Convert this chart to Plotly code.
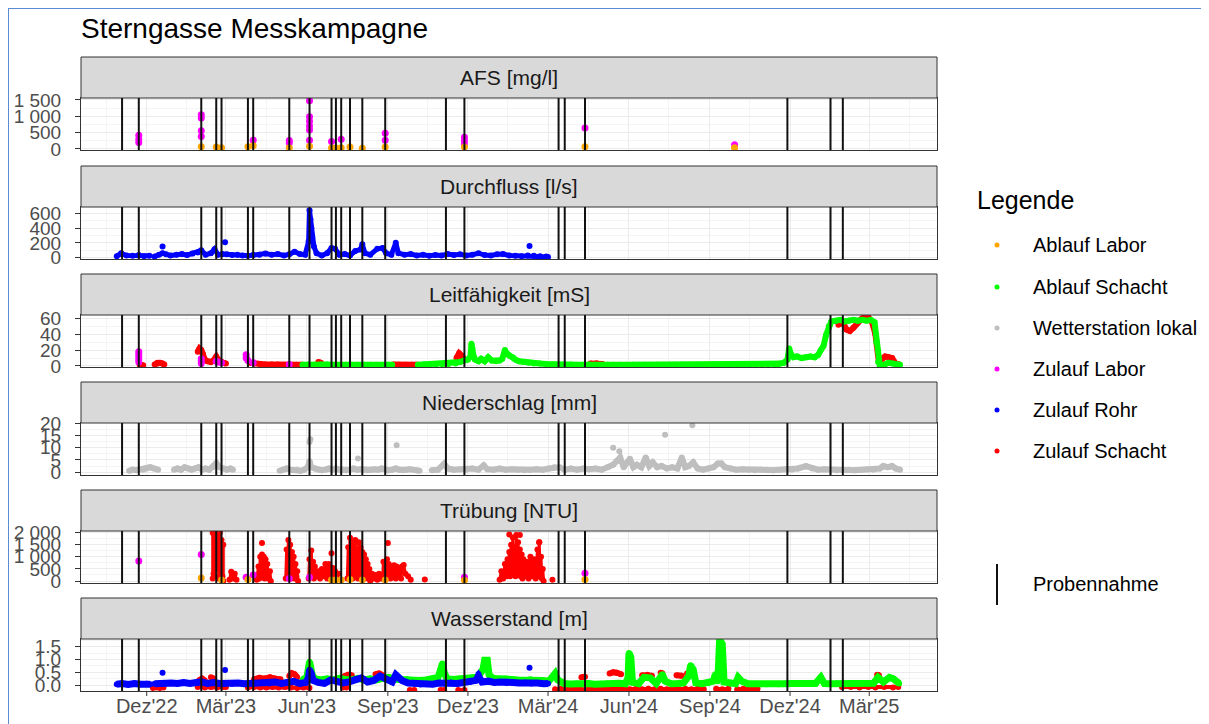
import plotly.graph_objects as go

# ---------------------------------------------------------------- data
probennahme = ["2022-11-03", "2022-11-22", "2023-02-01", "2023-02-18", "2023-02-24", "2023-03-26",
               "2023-04-01", "2023-05-12", "2023-06-04", "2023-06-29", "2023-07-04", "2023-07-10",
               "2023-07-20", "2023-08-03", "2023-08-29", "2023-11-06", "2023-11-27", "2024-03-13",
               "2024-03-20", "2024-04-12", "2024-11-28", "2025-01-16", "2025-01-30"]

x_tick_vals = ["2022-12-01", "2023-03-01", "2023-06-01", "2023-09-01", "2023-12-01", "2024-03-01",
               "2024-06-01", "2024-09-01", "2024-12-01", "2025-03-01"]
x_tick_text = ["Dez'22", "Mär'23", "Jun'23", "Sep'23", "Dez'23", "Mär'24", "Jun'24", "Sep'24",
               "Dez'24", "Mär'25"]
x_minor_vals = ["2022-10-16", "2023-01-15", "2023-04-16", "2023-07-16", "2023-10-16", "2024-01-15",
                "2024-04-16", "2024-07-16", "2024-10-16", "2025-01-15", "2025-04-16"]
x_range = ["2022-09-17 08:00", "2025-05-17"]

panel_titles = ["AFS [mg/l]", "Durchfluss [l/s]", "Leitfähigkeit [mS]", "Niederschlag [mm]",
                "Trübung [NTU]", "Wasserstand [m]"]
y_ranges = [[-31, 1561], [-18, 685], [-1.3, 64.2], [-1.2, 20.2], [-83, 2070], [-0.235, 1.80]]
y_tick_vals = [[0, 500, 1000, 1500], [0, 200, 400, 600], [0, 20, 40, 60], [0, 5, 10, 15, 20],
               [0, 500, 1000, 1500, 2000], [0.0, 0.5, 1.0, 1.5]]
y_tick_text = [["0", "500", "1 000", "1 500"], ["0", "200", "400", "600"], ["0", "20", "40", "60"],
               ["0", "5", "10", "15", "20"], ["0", "500", "1 000", "1 500", "2 000"],
               ["0.0", "0.5", "1.0", "1.5"]]
y_minor_vals = [[250, 750, 1250], [100, 300, 500], [10, 30, 50], [2.5, 7.5, 12.5, 17.5],
                [250, 750, 1250, 1750], [0.25, 0.75, 1.25, 1.75]]

legend_names = ["Ablauf Labor", "Ablauf Schacht", "Wetterstation lokal", "Zulauf Labor",
                "Zulauf Rohr", "Zulauf Schacht"]

# AFS
afs_zulauf_labor = [("2022-11-22", 200), ("2022-11-22", 300), ("2022-11-22", 420), ("2023-02-01", 1050),
                    ("2023-02-01", 950), ("2023-02-01", 560), ("2023-02-01", 380), ("2023-04-01", 270),
                    ("2023-05-12", 260), ("2023-05-12", 180), ("2023-06-04", 1480), ("2023-06-04", 990),
                    ("2023-06-04", 850), ("2023-06-04", 700), ("2023-06-04", 580), ("2023-06-04", 270),
                    ("2023-06-29", 230), ("2023-07-10", 300), ("2023-08-29", 480), ("2023-08-29", 270),
                    ("2023-11-27", 360), ("2023-11-27", 250), ("2023-11-27", 150), ("2024-04-12", 640),
                    ("2024-09-29", 130)]
afs_ablauf_labor = [("2023-02-01", 70), ("2023-02-18", 60), ("2023-02-24", 40), ("2023-03-26", 70),
                    ("2023-04-01", 100), ("2023-05-12", 40), ("2023-06-04", 80), ("2023-06-29", 30),
                    ("2023-07-04", 30), ("2023-07-10", 40), ("2023-07-20", 60), ("2023-08-03", 20),
                    ("2023-08-29", 60), ("2023-11-27", 60), ("2024-04-12", 70), ("2024-09-29", 40)]

# Durchfluss
durch_zulauf_rohr = [
    ("2022-10-28", 20), ("2022-11-02", 60), ("2022-11-08", 30), ("2022-11-15", 25), ("2022-11-22", 35),
    ("2022-11-28", 20), ("2022-12-04", 25), ("2022-12-07", None), ("2022-12-10", 15), ("2022-12-15", 40),
    ("2022-12-19", 60), ("2022-12-23", 45), ("2022-12-28", 30), ("2023-01-04", 40), ("2023-01-10", 50),
    ("2023-01-16", 35), ("2023-01-22", 55), ("2023-01-28", 70), ("2023-02-01", 100), ("2023-02-06", 40),
    ("2023-02-12", 60), ("2023-02-16", 115), ("2023-02-20", 40), ("2023-02-25", 50), ("2023-03-02", 45),
    ("2023-03-08", 35), ("2023-03-14", 40), ("2023-03-20", 30), ("2023-03-26", 25), ("2023-04-01", 35),
    ("2023-04-08", 40), ("2023-04-15", 55), ("2023-04-22", 40), ("2023-04-29", 50), ("2023-05-06", 30),
    ("2023-05-12", 45), ("2023-05-18", 80), ("2023-05-24", 50), ("2023-05-30", 40), ("2023-06-03", 220),
    ("2023-06-04", 640), ("2023-06-05", 520), ("2023-06-06", 400), ("2023-06-07", 280), ("2023-06-09", 150),
    ("2023-06-12", 60), ("2023-06-18", 30), ("2023-06-24", 60), ("2023-06-29", 130), ("2023-07-03", 120),
    ("2023-07-08", 40), ("2023-07-14", 50), ("2023-07-20", 30), ("2023-07-26", 90), ("2023-08-01", 110),
    ("2023-08-03", 180), ("2023-08-06", 60), ("2023-08-12", 40), ("2023-08-20", 120), ("2023-08-26", 130),
    ("2023-08-30", 60), ("2023-09-05", 40), ("2023-09-10", 200), ("2023-09-13", 60), ("2023-09-20", 40),
    ("2023-09-27", 50), ("2023-10-04", 30), ("2023-10-11", 40), ("2023-10-18", 25), ("2023-10-25", 35),
    ("2023-11-01", 30), ("2023-11-08", 50), ("2023-11-15", 35), ("2023-11-22", 45), ("2023-11-29", 30),
    ("2023-12-06", 40), ("2023-12-13", 60), ("2023-12-20", 35), ("2023-12-27", 30), ("2024-01-03", 45),
    ("2024-01-10", 50), ("2024-01-17", 30), ("2024-01-24", 25), ("2024-01-31", 20), ("2024-02-07", 30),
    ("2024-02-14", 25), ("2024-02-21", 20), ("2024-02-28", 15), ("2024-03-01", 10)]
durch_zulauf_rohr_pts = [("2022-12-19", 150), ("2023-02-28", 210), ("2024-02-09", 158)]

# Leitfähigkeit
leit_zulauf_labor = [("2022-11-22", 18), ("2022-11-22", 15), ("2022-11-22", 12), ("2022-11-22", 8),
                     ("2022-11-22", 5), ("2023-02-01", 9), ("2023-02-01", 6), ("2023-02-01", 3),
                     ("2023-02-18", 6), ("2023-02-20", 5), ("2023-02-24", 4), ("2023-03-24", 14),
                     ("2023-03-24", 10), ("2023-03-26", 7), ("2023-04-01", 4), ("2023-05-12", 2)]
leit_zulauf_schacht = [
    ("2022-11-23", 1.5), ("2022-11-27", 1), ("2022-11-28", None),
    ("2022-12-10", 2), ("2022-12-13", 4), ("2022-12-16", 4), ("2022-12-19", 3), ("2022-12-21", 2), ("2022-12-22", None),
    ("2023-01-28", 18), ("2023-01-30", 22), ("2023-02-01", 20), ("2023-02-03", 15), ("2023-02-05", 8),
    ("2023-02-08", 6), ("2023-02-12", 5), ("2023-02-15", 7), ("2023-02-18", 12), ("2023-02-20", 8),
    ("2023-02-23", 5), ("2023-02-26", 4), ("2023-03-01", 3), ("2023-03-02", None),
    ("2023-03-28", 4), ("2023-04-02", 3), ("2023-04-08", 2.5), ("2023-04-15", 2), ("2023-04-22", 2),
    ("2023-04-29", 2), ("2023-05-06", 1.5), ("2023-05-13", 1.5), ("2023-05-20", 1.5), ("2023-05-27", 1.5),
    ("2023-05-28", None),
    ("2023-06-14", 5), ("2023-06-17", 4), ("2023-06-18", None),
    ("2023-09-07", 2), ("2023-09-14", 1.5), ("2023-09-21", 1.5), ("2023-09-28", 1.5), ("2023-10-05", 1.5),
    ("2023-10-06", None),
    ("2023-11-18", 10), ("2023-11-21", 16), ("2023-11-24", 13), ("2023-11-27", 8), ("2023-11-28", None),
    ("2024-04-18", 3), ("2024-04-25", 3.5), ("2024-05-02", 2.5), ("2024-05-03", None),
    ("2025-01-25", 52), ("2025-01-30", 55), ("2025-02-03", 46), ("2025-02-07", 44), ("2025-02-11", 48),
    ("2025-02-15", 54), ("2025-02-20", 59), ("2025-02-24", 63), ("2025-02-28", 61), ("2025-03-04", 56),
    ("2025-03-08", 40), ("2025-03-12", 5), ("2025-03-19", 12), ("2025-03-23", 11), ("2025-03-27", 10),
    ("2025-03-31", 3), ("2025-04-04", 2)]
leit_ablauf_schacht = [
    ("2023-05-27", 1.5), ("2023-06-03", 2), ("2023-06-10", 1.5), ("2023-06-17", 2), ("2023-06-24", 2),
    ("2023-07-01", 1.5), ("2023-07-08", 1.5), ("2023-07-15", 1.5), ("2023-07-22", 1.5), ("2023-07-29", 1.5),
    ("2023-08-05", 1.5), ("2023-08-12", 1.5), ("2023-08-19", 1.5), ("2023-08-26", 1.5), ("2023-09-02", 1.5),
    ("2023-09-06", 1.5), ("2023-09-07", None),
    ("2023-10-05", 1.5), ("2023-10-12", 2), ("2023-10-19", 1.5), ("2023-10-26", 2), ("2023-11-02", 2),
    ("2023-11-09", 2.5), ("2023-11-17", 3), ("2023-11-22", 5), ("2023-11-27", 7), ("2023-12-01", 8),
    ("2023-12-04", 12), ("2023-12-05", 28), ("2023-12-06", 22), ("2023-12-07", 14), ("2023-12-09", 8),
    ("2023-12-13", 6), ("2023-12-16", 9), ("2023-12-20", 6), ("2023-12-24", 11), ("2023-12-28", 7),
    ("2024-01-02", 6), ("2024-01-06", 7), ("2024-01-09", 9), ("2024-01-12", 20), ("2024-01-14", 16),
    ("2024-01-17", 13), ("2024-01-21", 11), ("2024-01-24", 8), ("2024-01-28", 6), ("2024-02-02", 5),
    ("2024-02-08", 4), ("2024-02-14", 3), ("2024-02-21", 3), ("2024-02-28", 2.5), ("2024-03-06", 2),
    ("2024-03-13", 1.5), ("2024-03-20", 1.5), ("2024-03-27", 1.8), ("2024-04-03", 1.5), ("2024-04-10", 1.5),
    ("2024-04-17", 1.8), ("2024-04-24", 1.5), ("2024-05-01", 1.5), ("2024-05-08", 1.5), ("2024-05-15", 1.5),
    ("2024-05-22", 1.5), ("2024-05-29", 1.5), ("2024-06-05", 1.5), ("2024-06-12", 1.5), ("2024-06-19", 1.5),
    ("2024-06-26", 1.5), ("2024-07-03", 1.5), ("2024-07-10", 1.5), ("2024-07-17", 1.5), ("2024-07-24", 1.5),
    ("2024-07-31", 1.5), ("2024-08-07", 1.5), ("2024-08-14", 1.5), ("2024-08-21", 1.5), ("2024-08-28", 1.5),
    ("2024-09-04", 1.5), ("2024-09-11", 1.5), ("2024-09-18", 1.5), ("2024-09-25", 1.5), ("2024-10-02", 1.5),
    ("2024-10-09", 1.5), ("2024-10-16", 1.5), ("2024-10-23", 1.5), ("2024-10-30", 1.5), ("2024-11-06", 1.5),
    ("2024-11-13", 1.8), ("2024-11-17", 2), ("2024-11-20", 3), ("2024-11-24", 4), ("2024-11-28", 8),
    ("2024-11-30", 22), ("2024-12-02", 15), ("2024-12-05", 11), ("2024-12-09", 12), ("2024-12-14", 10),
    ("2024-12-19", 11), ("2024-12-24", 12), ("2024-12-29", 11), ("2025-01-02", 14), ("2025-01-05", 20),
    ("2025-01-08", 25), ("2025-01-11", 39), ("2025-01-14", 50), ("2025-01-17", 56), ("2025-01-22", 57),
    ("2025-01-27", 58), ("2025-02-01", 56), ("2025-02-06", 57), ("2025-02-11", 58), ("2025-02-16", 57),
    ("2025-02-21", 58), ("2025-02-26", 57), ("2025-03-03", 58), ("2025-03-07", 55), ("2025-03-09", 30),
    ("2025-03-11", 5), ("2025-03-13", 1), ("2025-03-18", 1.5), ("2025-03-23", 4), ("2025-03-28", 3),
    ("2025-04-01", 2), ("2025-04-05", 1.5)]

# Niederschlag
nieder_wetterstation = [
    ("2022-11-11", 0.5), ("2022-11-15", 1), ("2022-11-19", 0.8), ("2022-11-23", 1.2), ("2022-11-27", 1.0),
    ("2022-12-01", 1.5), ("2022-12-05", 2.0), ("2022-12-09", 1.5), ("2022-12-14", 1.0), ("2022-12-15", None),
    ("2023-01-01", 1), ("2023-01-05", 1.5), ("2023-01-09", 1), ("2023-01-13", 2), ("2023-01-17", 1.5),
    ("2023-01-21", 1), ("2023-01-25", 1.5), ("2023-01-29", 2), ("2023-02-02", 1), ("2023-02-06", 1.5),
    ("2023-02-10", 1), ("2023-02-14", 2), ("2023-02-18", 3.7), ("2023-02-22", 2), ("2023-02-26", 1.5),
    ("2023-03-02", 1), ("2023-03-06", 1.5), ("2023-03-09", 1), ("2023-03-10", None),
    ("2023-05-01", 0.5), ("2023-05-05", 1), ("2023-05-09", 1.5), ("2023-05-13", 1), ("2023-05-17", 0.8),
    ("2023-05-21", 1), ("2023-05-25", 0.5), ("2023-05-29", 1), ("2023-06-02", 2), ("2023-06-04", 4.5),
    ("2023-06-06", 2), ("2023-06-10", 1.5), ("2023-06-14", 1), ("2023-06-18", 0.8), ("2023-06-22", 1),
    ("2023-06-26", 1.5), ("2023-06-30", 1), ("2023-07-04", 1.5), ("2023-07-08", 1), ("2023-07-12", 1),
    ("2023-07-16", 0.8), ("2023-07-20", 1), ("2023-07-24", 1.5), ("2023-07-28", 1), ("2023-08-01", 1.2),
    ("2023-08-05", 1), ("2023-08-09", 0.8), ("2023-08-13", 1), ("2023-08-17", 1.2), ("2023-08-21", 1),
    ("2023-08-25", 1.5), ("2023-08-29", 1), ("2023-09-02", 0.8), ("2023-09-06", 1), ("2023-09-10", 1.5),
    ("2023-09-14", 1), ("2023-09-18", 0.8), ("2023-09-22", 1), ("2023-09-26", 1.2), ("2023-09-30", 1),
    ("2023-10-04", 0.8), ("2023-10-07", 0.5), ("2023-10-08", None),
    ("2023-10-21", 0.8), ("2023-10-28", 1), ("2023-11-04", 3.4), ("2023-11-08", 1.5), ("2023-11-15", 1),
    ("2023-11-22", 1.2), ("2023-11-29", 1), ("2023-12-06", 1.5), ("2023-12-13", 1), ("2023-12-19", 2.8),
    ("2023-12-23", 1.2), ("2023-12-30", 1), ("2024-01-06", 1.5), ("2024-01-13", 1), ("2024-01-20", 1.2),
    ("2024-01-27", 1), ("2024-02-03", 0.8), ("2024-02-10", 1), ("2024-02-17", 1.2), ("2024-02-24", 1),
    ("2024-03-02", 1.5), ("2024-03-08", 2), ("2024-03-14", 2), ("2024-03-20", 1), ("2024-03-27", 1.5),
    ("2024-04-03", 1), ("2024-04-10", 1.5), ("2024-04-17", 1.2), ("2024-04-24", 1.5), ("2024-05-01", 1),
    ("2024-05-08", 2), ("2024-05-14", 3), ("2024-05-18", 4.5), ("2024-05-22", 6), ("2024-05-26", 2),
    ("2024-06-02", 5.5), ("2024-06-06", 2), ("2024-06-10", 3), ("2024-06-15", 2), ("2024-06-20", 6),
    ("2024-06-24", 2.5), ("2024-06-28", 4), ("2024-07-03", 2), ("2024-07-08", 2.5), ("2024-07-14", 1.5),
    ("2024-07-20", 2), ("2024-07-26", 1.5), ("2024-07-31", 6), ("2024-08-04", 2), ("2024-08-08", 2.5),
    ("2024-08-13", 4), ("2024-08-18", 1.5), ("2024-08-24", 1), ("2024-08-30", 1.5), ("2024-09-05", 2),
    ("2024-09-10", 3.5), ("2024-09-14", 3.5), ("2024-09-18", 2), ("2024-09-24", 1.5), ("2024-10-01", 1),
    ("2024-10-08", 1.2), ("2024-10-15", 1), ("2024-10-22", 0.8), ("2024-10-29", 1), ("2024-11-05", 1),
    ("2024-11-12", 0.8), ("2024-11-19", 1), ("2024-11-26", 1.2), ("2024-12-03", 1), ("2024-12-10", 1.5),
    ("2024-12-19", 2.5), ("2024-12-26", 1.5), ("2025-01-02", 1), ("2025-01-09", 1.2), ("2025-01-16", 1),
    ("2025-01-23", 0.8), ("2025-01-30", 1), ("2025-02-06", 1), ("2025-02-13", 0.8), ("2025-02-20", 1),
    ("2025-02-27", 1.2), ("2025-03-06", 1), ("2025-03-13", 1.5), ("2025-03-17", 2.5), ("2025-03-22", 2),
    ("2025-03-27", 2.5), ("2025-03-31", 1.5), ("2025-04-05", 1)]
nieder_wetterstation_pts = [("2023-06-04", 12.4), ("2023-06-05", 13.5), ("2023-07-29", 5.6),
                            ("2023-09-11", 11), ("2024-05-14", 10), ("2024-05-21", 8.6),
                            ("2024-07-12", 15.4), ("2024-08-12", 19.3)]

# Trübung
trueb_zulauf_labor = [("2022-11-22", 830), ("2023-02-01", 1100), ("2023-03-24", 160), ("2023-04-01", 250),
                      ("2023-05-12", 100), ("2023-06-04", 160), ("2023-11-27", 150), ("2024-04-12", 320)]
trueb_ablauf_labor = [("2023-02-01", 120), ("2023-02-24", 40), ("2023-03-26", 60), ("2023-06-29", 40),
                      ("2023-07-04", 40), ("2023-07-10", 40), ("2023-07-20", 60), ("2023-08-03", 40),
                      ("2023-08-29", 40), ("2023-11-27", 30), ("2024-04-12", 60)]
trueb_zulauf_schacht = [
    ("2023-02-14", 100), ("2023-02-14", 2000), ("2023-02-15", 300), ("2023-02-16", 1900), ("2023-02-17", 200),
    ("2023-02-18", 2000), ("2023-02-19", 500), ("2023-02-20", 1800), ("2023-02-21", 100), ("2023-02-22", 2000),
    ("2023-02-23", 400), ("2023-02-24", 1700), ("2023-02-25", 200), ("2023-02-26", 1500), ("2023-02-26", 0),
    ("2023-02-27", None),
    ("2023-03-05", 50), ("2023-03-07", 380), ("2023-03-09", 100), ("2023-03-11", 300), ("2023-03-13", 50),
    ("2023-03-14", None),
    ("2023-04-05", 50), ("2023-04-07", 600), ("2023-04-08", 100), ("2023-04-09", 1000), ("2023-04-10", 200),
    ("2023-04-11", 1100), ("2023-04-12", 300), ("2023-04-13", 1000), ("2023-04-14", 100), ("2023-04-15", 900),
    ("2023-04-16", 200), ("2023-04-17", 700), ("2023-04-18", 100), ("2023-04-20", 400), ("2023-04-21", 0),
    ("2023-04-22", None),
    ("2023-05-08", 100), ("2023-05-09", 1300), ("2023-05-10", 200), ("2023-05-11", 1700), ("2023-05-12", 400),
    ("2023-05-13", 1500), ("2023-05-14", 100), ("2023-05-15", 1200), ("2023-05-16", 300), ("2023-05-17", 1000),
    ("2023-05-18", 100), ("2023-05-19", 700), ("2023-05-20", 200), ("2023-05-21", 400), ("2023-05-22", 0),
    ("2023-05-23", None),
    ("2023-06-03", 100), ("2023-06-04", 900), ("2023-06-05", 200), ("2023-06-06", 1260), ("2023-06-07", 300),
    ("2023-06-08", 800), ("2023-06-09", 100), ("2023-06-10", 600), ("2023-06-12", 200), ("2023-06-14", 400),
    ("2023-06-16", 100), ("2023-06-18", 500), ("2023-06-20", 200), ("2023-06-22", 700), ("2023-06-24", 100),
    ("2023-06-26", 700), ("2023-06-28", 200), ("2023-06-30", 550), ("2023-07-01", 50), ("2023-07-03", 400),
    ("2023-07-05", 100), ("2023-07-07", 300), ("2023-07-08", None),
    ("2023-07-17", 100), ("2023-07-18", 1400), ("2023-07-19", 200), ("2023-07-20", 1790), ("2023-07-21", 300),
    ("2023-07-22", 1600), ("2023-07-23", 100), ("2023-07-24", 1500), ("2023-07-25", 400), ("2023-07-26", 1700),
    ("2023-07-27", 200), ("2023-07-28", 1300), ("2023-07-29", 100), ("2023-07-30", 1600), ("2023-07-31", 300),
    ("2023-08-01", 1400), ("2023-08-02", 100), ("2023-08-03", 1200), ("2023-08-04", 200), ("2023-08-05", 1100),
    ("2023-08-06", 100), ("2023-08-07", 900), ("2023-08-08", 200), ("2023-08-09", 700), ("2023-08-10", 100),
    ("2023-08-11", 500), ("2023-08-12", 0), ("2023-08-14", 300), ("2023-08-16", 100), ("2023-08-18", 250),
    ("2023-08-20", 50), ("2023-08-22", 300), ("2023-08-24", 100),
    ("2023-08-26", 100), ("2023-08-27", 800), ("2023-08-28", 200), ("2023-08-29", 600), ("2023-08-30", 100),
    ("2023-08-31", 900), ("2023-09-01", 200), ("2023-09-02", 700), ("2023-09-04", 100), ("2023-09-05", 600),
    ("2023-09-07", 200), ("2023-09-08", 650), ("2023-09-10", 100), ("2023-09-11", 600), ("2023-09-13", 200),
    ("2023-09-14", 500), ("2023-09-16", 100), ("2023-09-17", 600), ("2023-09-19", 660), ("2023-09-21", 300),
    ("2023-09-24", 200), ("2023-09-27", 50), ("2023-09-28", None),
    ("2024-01-06", 50), ("2024-01-08", 400), ("2024-01-10", 100), ("2024-01-12", 700), ("2024-01-14", 200),
    ("2024-01-15", 900), ("2024-01-16", 300), ("2024-01-17", 1200), ("2024-01-18", 200), ("2024-01-19", 1500),
    ("2024-01-20", 400), ("2024-01-21", 1800), ("2024-01-22", 300), ("2024-01-23", 1400), ("2024-01-24", 200),
    ("2024-01-25", 1900), ("2024-01-26", 400), ("2024-01-27", 1600), ("2024-01-28", 300), ("2024-01-29", 1300),
    ("2024-01-30", 200), ("2024-01-31", 1100), ("2024-02-01", 100), ("2024-02-02", 900), ("2024-02-04", 200),
    ("2024-02-06", 800), ("2024-02-08", 100), ("2024-02-10", 1000), ("2024-02-12", 200), ("2024-02-14", 900),
    ("2024-02-16", 100), ("2024-02-18", 1300), ("2024-02-19", 200), ("2024-02-20", 1600), ("2024-02-21", 300),
    ("2024-02-22", 1000), ("2024-02-23", 100), ("2024-02-24", 500), ("2024-02-25", 0)]
trueb_zulauf_schacht_pts = [("2023-04-11", 1570), ("2023-06-29", 1150), ("2023-09-01", 1570),
                            ("2023-10-13", 60), ("2024-01-17", 1930), ("2024-01-29", 1900),
                            ("2024-02-20", 1600), ("2024-03-06", 50)]

# Wasserstand
wass_zulauf_rohr = [
    ("2022-10-28", 0.03), ("2022-11-03", 0.06), ("2022-11-10", 0.02), ("2022-11-17", 0.06), ("2022-11-24", 0.03),
    ("2022-12-01", 0.05), ("2022-12-05", 0.03), ("2022-12-07", None), ("2022-12-10", 0.05), ("2022-12-16", 0.08),
    ("2022-12-22", 0.05), ("2022-12-29", 0.08), ("2023-01-05", 0.06), ("2023-01-12", 0.1), ("2023-01-19", 0.06),
    ("2023-01-26", 0.1), ("2023-02-01", 0.12), ("2023-02-08", 0.06), ("2023-02-15", 0.1), ("2023-02-22", 0.06),
    ("2023-03-01", 0.08), ("2023-03-08", 0.05), ("2023-03-15", 0.08), ("2023-03-22", 0.05), ("2023-03-29", 0.06),
    ("2023-04-05", 0.08), ("2023-04-12", 0.1), ("2023-04-19", 0.06), ("2023-04-26", 0.12), ("2023-05-03", 0.06),
    ("2023-05-10", 0.1), ("2023-05-17", 0.14), ("2023-05-24", 0.06), ("2023-05-31", 0.1), ("2023-06-03", 0.3),
    ("2023-06-04", 0.6), ("2023-06-06", 0.45), ("2023-06-08", 0.18), ("2023-06-14", 0.1), ("2023-06-21", 0.06),
    ("2023-06-28", 0.2), ("2023-07-05", 0.15), ("2023-07-12", 0.08), ("2023-07-19", 0.12), ("2023-07-26", 0.22),
    ("2023-08-02", 0.28), ("2023-08-09", 0.12), ("2023-08-16", 0.18), ("2023-08-23", 0.35), ("2023-08-30", 0.22),
    ("2023-09-06", 0.12), ("2023-09-10", 0.4), ("2023-09-17", 0.18), ("2023-09-24", 0.08), ("2023-10-01", 0.06),
    ("2023-10-08", 0.02), ("2023-10-15", 0.05), ("2023-10-22", 0.03), ("2023-10-29", 0.08), ("2023-11-05", 0.06),
    ("2023-11-12", 0.1), ("2023-11-19", 0.06), ("2023-11-26", 0.1), ("2023-12-03", 0.12), ("2023-12-10", 0.18),
    ("2023-12-13", 0.35), ("2023-12-17", 0.12), ("2023-12-24", 0.15), ("2023-12-31", 0.1), ("2024-01-07", 0.12),
    ("2024-01-14", 0.08), ("2024-01-21", 0.1), ("2024-01-28", 0.08), ("2024-02-04", 0.1), ("2024-02-11", 0.06),
    ("2024-02-18", 0.08), ("2024-02-25", 0.05), ("2024-03-01", 0.06)]
wass_zulauf_rohr_pts = [("2022-12-19", 0.48), ("2023-02-28", 0.59), ("2023-12-13", 0.43), ("2024-02-09", 0.67)]
wass_zulauf_schacht = [
    ("2022-12-08", -0.12), ("2022-12-12", -0.1), ("2022-12-16", -0.12), ("2022-12-20", -0.1), ("2022-12-21", None),
    ("2023-01-28", -0.08), ("2023-02-05", -0.1), ("2023-02-12", -0.08), ("2023-02-19", -0.1), ("2023-02-26", -0.08),
    ("2023-03-01", -0.08), ("2023-03-02", None),
    ("2023-03-26", -0.1), ("2023-04-02", -0.08), ("2023-04-09", -0.1), ("2023-04-16", -0.1), ("2023-04-23", -0.08),
    ("2023-04-30", -0.1), ("2023-05-07", -0.08), ("2023-05-14", -0.1), ("2023-05-21", -0.12), ("2023-05-28", -0.1),
    ("2023-06-04", -0.12), ("2023-06-06", None),
    ("2023-07-12", -0.1), ("2023-07-16", -0.1), ("2023-07-17", None),
    ("2023-09-26", -0.2), ("2023-10-01", -0.2), ("2023-10-02", None),
    ("2023-10-31", -0.2), ("2023-11-04", -0.2), ("2023-11-05", None),
    ("2023-11-20", -0.2), ("2023-11-27", -0.2), ("2023-11-28", None),
    ("2024-03-09", -0.17), ("2024-03-16", -0.15), ("2024-03-23", -0.17), ("2024-03-30", -0.15), ("2024-04-06", -0.17),
    ("2024-04-14", -0.15), ("2024-04-21", -0.17), ("2024-04-28", -0.15), ("2024-05-05", -0.17), ("2024-05-12", -0.15),
    ("2024-05-19", -0.17), ("2024-05-26", -0.15), ("2024-06-02", -0.17), ("2024-06-09", -0.15), ("2024-06-16", -0.17),
    ("2024-06-23", -0.15), ("2024-06-30", -0.17), ("2024-07-07", -0.15), ("2024-07-14", -0.17), ("2024-07-21", -0.15),
    ("2024-07-28", -0.17), ("2024-08-04", -0.15), ("2024-08-11", -0.17), ("2024-08-18", -0.15), ("2024-08-25", -0.17),
    ("2024-09-01", None), ("2024-09-08", -0.15), ("2024-09-15", -0.17), ("2024-09-22", -0.15), ("2024-09-23", None),
    ("2024-10-02", -0.17), ("2024-10-09", -0.15), ("2024-10-16", -0.17), ("2024-10-25", -0.15), ("2024-10-26", None),
    ("2025-01-29", -0.08), ("2025-02-08", -0.08), ("2025-02-18", -0.1), ("2025-02-28", -0.08), ("2025-03-08", -0.1),
    ("2025-03-18", -0.08), ("2025-03-28", -0.1), ("2025-04-03", -0.08)]
wass_zulauf_schacht_hi = [
    ("2023-01-30", 0.2), ("2023-02-02", 0.25), ("2023-02-05", 0.18), ("2023-02-06", None),
    ("2023-02-12", 0.3), ("2023-02-15", 0.25), ("2023-02-16", None),
    ("2023-04-02", 0.22), ("2023-04-08", 0.28), ("2023-04-14", 0.25), ("2023-04-20", 0.3), ("2023-04-26", 0.25),
    ("2023-05-02", 0.22), ("2023-05-03", None),
    ("2023-05-12", 0.35), ("2023-05-15", 0.46), ("2023-05-18", 0.42), ("2023-05-21", 0.3), ("2023-05-22", None),
    ("2023-07-14", 0.35), ("2023-07-18", 0.4), ("2023-07-22", 0.38), ("2023-07-23", None),
    ("2023-08-18", 0.42), ("2023-08-22", 0.45), ("2023-08-25", 0.4), ("2023-08-26", None),
    ("2024-04-08", 0.3), ("2024-04-12", 0.32), ("2024-04-13", None),
    ("2024-05-10", 0.45), ("2024-05-14", 0.5), ("2024-05-18", 0.48), ("2024-05-23", 0.42), ("2024-05-24", None),
    ("2024-06-16", 0.38), ("2024-06-22", 0.4), ("2024-06-27", 0.36), ("2024-06-28", None),
    ("2024-07-07", 0.48), ("2024-07-09", 0.45), ("2024-07-10", None),
    ("2024-07-25", 0.38), ("2024-07-31", 0.36), ("2024-08-01", None),
    ("2024-08-06", 0.45), ("2024-08-11", 0.42), ("2024-08-12", None),
    ("2025-03-10", 0.4), ("2025-03-12", 0.38)]
wass_ablauf_schacht = [
    ("2023-05-27", 0.2), ("2023-06-01", 0.3), ("2023-06-03", 0.7), ("2023-06-04", 0.91), ("2023-06-05", 0.75),
    ("2023-06-07", 0.4), ("2023-06-10", 0.25), ("2023-06-17", 0.2), ("2023-06-24", 0.24), ("2023-07-01", 0.2),
    ("2023-07-08", 0.26), ("2023-07-15", 0.22), ("2023-07-22", 0.2), ("2023-07-29", 0.26), ("2023-08-05", 0.2),
    ("2023-08-12", 0.24), ("2023-08-19", 0.2), ("2023-08-26", 0.26), ("2023-09-02", 0.3), ("2023-09-09", 0.22),
    ("2023-09-16", 0.2), ("2023-09-23", 0.22), ("2023-09-30", 0.2), ("2023-10-07", 0.18), ("2023-10-14", 0.2),
    ("2023-10-21", 0.22), ("2023-10-28", 0.3), ("2023-10-31", 0.6), ("2023-11-02", 0.84), ("2023-11-04", 0.5),
    ("2023-11-07", 0.25), ("2023-11-14", 0.22), ("2023-11-21", 0.25), ("2023-11-28", 0.22), ("2023-12-05", 0.25),
    ("2023-12-12", 0.3), ("2023-12-18", 0.6), ("2023-12-20", 0.97), ("2023-12-23", 0.97), ("2023-12-25", 0.4),
    ("2023-12-30", 0.25), ("2024-01-06", 0.22), ("2024-01-13", 0.25), ("2024-01-20", 0.22), ("2024-01-27", 0.2),
    ("2024-02-03", 0.2), ("2024-02-10", 0.22), ("2024-02-17", 0.2), ("2024-02-24", 0.18), ("2024-03-02", 0.15),
    ("2024-03-07", 0.35), ("2024-03-09", 0.45), ("2024-03-12", 0.2), ("2024-03-19", 0.06), ("2024-03-26", 0.04),
    ("2024-04-02", 0.06), ("2024-04-09", 0.04), ("2024-04-16", 0.06), ("2024-04-23", 0.03), ("2024-04-30", 0.05),
    ("2024-05-07", 0.06), ("2024-05-14", 0.05), ("2024-05-21", 0.07), ("2024-05-28", 0.05), ("2024-05-31", 0.3),
    ("2024-06-01", 1.25), ("2024-06-03", 1.1), ("2024-06-05", 0.1), ("2024-06-12", 0.05), ("2024-06-18", 0.3),
    ("2024-06-25", 0.28), ("2024-07-02", 0.06), ("2024-07-09", 0.42), ("2024-07-12", 0.15), ("2024-07-19", 0.05),
    ("2024-07-26", 0.06), ("2024-08-02", 0.08), ("2024-08-08", 0.35), ("2024-08-10", 0.77), ("2024-08-13", 0.6),
    ("2024-08-16", 0.08), ("2024-08-23", 0.05), ("2024-08-30", 0.07), ("2024-09-05", 0.15), ("2024-09-07", 0.42),
    ("2024-09-10", 0.15), ("2024-09-12", 1.78), ("2024-09-15", 1.6), ("2024-09-17", 0.12), ("2024-09-24", 0.06),
    ("2024-09-30", 0.05), ("2024-10-03", 0.3), ("2024-10-07", 0.15), ("2024-10-14", 0.05), ("2024-10-21", 0.04),
    ("2024-10-28", 0.03), ("2024-11-04", 0.03), ("2024-11-11", 0.04), ("2024-11-18", 0.03), ("2024-11-25", 0.05),
    ("2024-12-02", 0.06), ("2024-12-09", 0.05), ("2024-12-16", 0.06), ("2024-12-23", 0.05), ("2024-12-30", 0.06),
    ("2025-01-05", 0.3), ("2025-01-09", 0.06), ("2025-01-16", 0.05), ("2025-01-23", 0.06), ("2025-01-30", 0.05),
    ("2025-02-06", 0.06), ("2025-02-13", 0.05), ("2025-02-20", 0.06), ("2025-02-27", 0.05), ("2025-03-06", 0.07),
    ("2025-03-11", 0.3), ("2025-03-17", 0.12), ("2025-03-24", 0.3), ("2025-03-28", 0.25), ("2025-04-04", 0.06)]

# ---------------------------------------------------------------- styling / layout helpers
OFF = 8                      # page body margin of the html page
WF, HF = 1209 - OFF, 724 - OFF
COLORS = {"Ablauf Labor": "#FFA500", "Ablauf Schacht": "#00FF00", "Wetterstation lokal": "#BEBEBE",
          "Zulauf Labor": "#FF00FF", "Zulauf Rohr": "#0000FF", "Zulauf Schacht": "#FF0000"}
FONT = "Liberation Sans, Arial, sans-serif"
PL, PR = 81, 937
PANEL_TOPS = [98, 207, 315, 423, 531, 639]
PANEL_H = 52
STRIP_H = 41


def fx(px):
    return (px - OFF) / WF


def fy(py):
    return 1 - (py - OFF) / HF


fig = go.Figure()


def ax(i):
    return ("x" if i == 1 else f"x{i}"), ("y" if i == 1 else f"y{i}")


def add_band(pairs, name, panel, width):
    xa, ya = ax(panel)
    fig.add_trace(go.Scatter(
        x=[p[0] for p in pairs], y=[p[1] for p in pairs], mode="lines+markers",
        line=dict(color=COLORS[name], width=width), marker=dict(color=COLORS[name], size=6),
        connectgaps=False, xaxis=xa, yaxis=ya, name=name, showlegend=False, hoverinfo="skip"))


def add_points(pairs, name, panel, size=6):
    xa, ya = ax(panel)
    fig.add_trace(go.Scatter(
        x=[p[0] for p in pairs], y=[p[1] for p in pairs], mode="markers",
        marker=dict(color=COLORS[name], size=size), xaxis=xa, yaxis=ya, name=name,
        showlegend=False, hoverinfo="skip"))


# Panel 1: AFS
add_points(afs_zulauf_labor, "Zulauf Labor", 1, 7)
add_points(afs_ablauf_labor, "Ablauf Labor", 1, 7)
# Panel 2: Durchfluss
add_band(durch_zulauf_rohr, "Zulauf Rohr", 2, 5)
add_points(durch_zulauf_rohr_pts, "Zulauf Rohr", 2)
# Panel 3: Leitfähigkeit
add_band(leit_zulauf_schacht, "Zulauf Schacht", 3, 6)
add_band(leit_ablauf_schacht, "Ablauf Schacht", 3, 6)
add_points(leit_zulauf_labor, "Zulauf Labor", 3, 7)
# Panel 4: Niederschlag
add_band(nieder_wetterstation, "Wetterstation lokal", 4, 6)
add_points(nieder_wetterstation_pts, "Wetterstation lokal", 4)
# Panel 5: Trübung
add_band(trueb_zulauf_schacht, "Zulauf Schacht", 5, 3)
add_points(trueb_zulauf_schacht_pts, "Zulauf Schacht", 5)
add_points(trueb_zulauf_labor, "Zulauf Labor", 5, 7)
add_points(trueb_ablauf_labor, "Ablauf Labor", 5, 7)
# Panel 6: Wasserstand
add_band(wass_zulauf_schacht, "Zulauf Schacht", 6, 4)
add_band(wass_zulauf_schacht_hi, "Zulauf Schacht", 6, 6)
add_band(wass_ablauf_schacht, "Ablauf Schacht", 6, 7)
add_band(wass_zulauf_rohr, "Zulauf Rohr", 6, 7)
add_points(wass_zulauf_rohr_pts, "Zulauf Rohr", 6)

layout = dict(
    width=WF, height=HF, margin=dict(l=0, r=0, t=0, b=0),
    paper_bgcolor="white", plot_bgcolor="white", showlegend=False,
    font=dict(family=FONT, color="#4d4d4d"),
)
shapes = []
annotations = []
xtickfont = dict(family=FONT, size=20, color="#4d4d4d")
ytickfont = dict(family=FONT, size=19, color="#4d4d4d")

for i in range(1, 7):
    top = PANEL_TOPS[i - 1]
    bot = top + PANEL_H
    xkey = "xaxis" if i == 1 else f"xaxis{i}"
    ykey = "yaxis" if i == 1 else f"yaxis{i}"
    xa, ya = ax(i)
    layout[xkey] = dict(
        domain=[fx(PL), fx(PR)], anchor=ya, type="date", range=x_range,
        tickmode="array", tickvals=x_tick_vals, ticktext=x_tick_text,
        showticklabels=(i == 6), ticks="", tickfont=xtickfont, ticklabelstandoff=-3,
        showgrid=True, gridcolor="#ebebeb", gridwidth=1,
        minor=dict(tickmode="array", tickvals=x_minor_vals, showgrid=True, gridcolor="#f4f4f4",
                   gridwidth=0.6, ticks=""),
        showline=True, linecolor="#333333", linewidth=1, mirror=True, zeroline=False,
        automargin=False, fixedrange=True,
    )
    if i > 1:
        layout[xkey]["matches"] = "x"
    layout[ykey] = dict(
        domain=[fy(bot), fy(top)], anchor=xa, range=y_ranges[i - 1],
        tickmode="array", tickvals=y_tick_vals[i - 1], ticktext=y_tick_text[i - 1],
        ticks="outside", ticklen=5, tickcolor="#333333", tickfont=ytickfont,
        ticklabelstandoff=10,
        showgrid=True, gridcolor="#ebebeb", gridwidth=1,
        minor=dict(tickmode="array", tickvals=y_minor_vals[i - 1], showgrid=True,
                   gridcolor="#f4f4f4", gridwidth=0.6, ticks=""),
        showline=True, linecolor="#333333", linewidth=1, mirror=True, zeroline=False,
        automargin=False, fixedrange=True,
    )
    # strip
    shapes.append(dict(type="rect", xref="paper", yref="paper", x0=fx(PL), x1=fx(PR),
                       y0=fy(top), y1=fy(top - STRIP_H), fillcolor="#d9d9d9",
                       line=dict(color="#333333", width=1), layer="above"))
    annotations.append(dict(text=panel_titles[i - 1], xref="paper", yref="paper",
                            x=fx((PL + PR) / 2), y=fy(top - STRIP_H / 2), xanchor="center",
                            yanchor="middle", showarrow=False,
                            font=dict(family=FONT, size=21, color="#1a1a1a")))
    # sampling lines
    for d in probennahme:
        shapes.append(dict(type="line", xref=xa, yref=f"{ya} domain", x0=d, x1=d, y0=0, y1=1,
                           line=dict(color="#111111", width=2), layer="above"))

# x tick marks under the bottom panel
for d in x_tick_vals:
    shapes.append(dict(type="line", xref="x6", yref="paper", x0=d, x1=d,
                       y0=fy(PANEL_TOPS[5] + PANEL_H), y1=fy(PANEL_TOPS[5] + PANEL_H + 5),
                       line=dict(color="#333333", width=1)))

# title
annotations.append(dict(text="Sterngasse Messkampagne", xref="paper", yref="paper", x=fx(79), y=fy(28),
                        xanchor="left", yanchor="middle", showarrow=False,
                        font=dict(family=FONT, size=28, color="#000000")))
# manual legend
annotations.append(dict(text="Legende", xref="paper", yref="paper", x=fx(975), y=fy(200),
                        xanchor="left", yanchor="middle", showarrow=False,
                        font=dict(family=FONT, size=25, color="#000000")))
legend_y = [245, 287, 328, 369, 410, 451]
for name, ly in zip(legend_names, legend_y):
    shapes.append(dict(type="circle", xref="paper", yref="paper", x0=fx(994.5), x1=fx(999.5),
                       y0=fy(ly + 2.5), y1=fy(ly - 2.5), fillcolor=COLORS[name],
                       line=dict(width=0)))
    annotations.append(dict(text=name, xref="paper", yref="paper", x=fx(1031), y=fy(ly),
                            xanchor="left", yanchor="middle", showarrow=False,
                            font=dict(family=FONT, size=20, color="#000000")))
shapes.append(dict(type="line", xref="paper", yref="paper", x0=fx(997), x1=fx(997),
                   y0=fy(605), y1=fy(564), line=dict(color="#111111", width=2)))
annotations.append(dict(text="Probennahme", xref="paper", yref="paper", x=fx(1031), y=fy(584),
                        xanchor="left", yanchor="middle", showarrow=False,
                        font=dict(family=FONT, size=20, color="#000000")))
# screenshot frame (left and top edge)
shapes.append(dict(type="line", xref="paper", yref="paper", x0=0, x1=0, y0=0, y1=1,
                   line=dict(color="#5b8bd0", width=2)))
shapes.append(dict(type="line", xref="paper", yref="paper", x0=0, x1=1, y0=1, y1=1,
                   line=dict(color="#5b8bd0", width=2)))

layout["shapes"] = shapes
layout["annotations"] = annotations
fig.update_layout(**layout)
fig.write_html("out.html")
